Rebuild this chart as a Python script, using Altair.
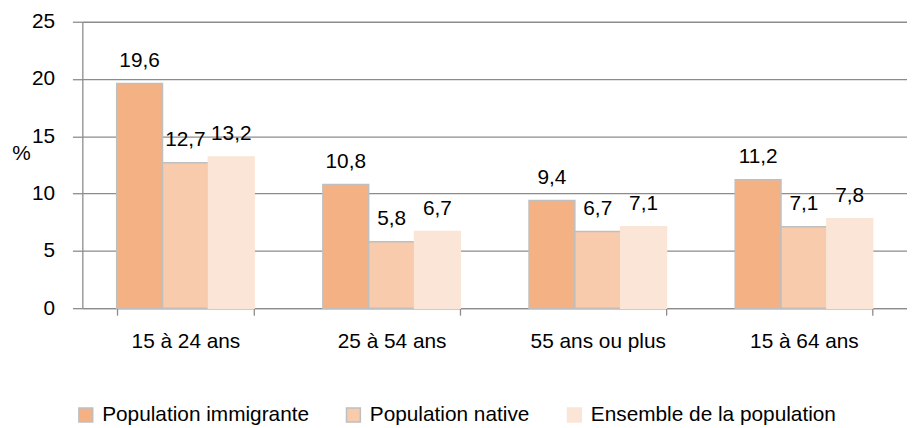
import altair as alt
import pandas as pd

categories = ["15 à 24 ans", "25 à 54 ans", "55 ans ou plus", "15 à 64 ans"]
series = ["Population immigrante", "Population native", "Ensemble de la population"]
immigrante = [19.6, 10.8, 9.4, 11.2]
native = [12.7, 5.8, 6.7, 7.1]
ensemble = [13.2, 6.7, 7.1, 7.8]
y_ticks = [0, 5, 10, 15, 20, 25]

rows = []
for vals, s in zip([immigrante, native, ensemble], series):
    for c, v in zip(categories, vals):
        rows.append({"cat": c, "serie": s, "val": v,
                     "lab": f"{v:.1f}".replace(".", ",")})
df = pd.DataFrame(rows)

FONT = "Liberation Sans, Arial, sans-serif"
colors = ["#F4B183", "#F8CBAD", "#FBE5D6"]
strokes = ["#BFBFBF", "#BFBFBF", "#FBE5D6"]
GRID = "#8C8C8C"

x = alt.X("cat:N", sort=categories, title=None,
          scale=alt.Scale(paddingInner=1/3, paddingOuter=1/6),
          axis=alt.Axis(labelAngle=0, labelFontSize=21, labelFont=FONT, labelColor="#000000",
                        tickBand="extent", tickSize=7, tickColor=GRID, tickWidth=1.3,
                        domainColor=GRID, domainWidth=1.3, labelPadding=16, grid=False))
xoff = alt.XOffset("serie:N", sort=series, scale=alt.Scale(paddingInner=0, paddingOuter=0))
y = alt.Y("val:Q", scale=alt.Scale(domain=[0, 25], nice=False, zero=True),
          axis=alt.Axis(values=y_ticks, title="%", titleAngle=0, titleX=-62, titleY=133,
                        titleAlign="center", titleBaseline="middle", titleFontSize=21,
                        titleFont=FONT, titleFontWeight="normal", titleColor="#000000",
                        labelFontSize=21, labelFont=FONT, labelColor="#000000", labelPadding=18,
                        tickSize=10, tickColor=GRID, tickWidth=1.3,
                        domainColor=GRID, domainWidth=1.3,
                        gridColor=GRID, gridWidth=1.3))

color = alt.Color("serie:N", sort=series, scale=alt.Scale(domain=series, range=colors),
                  legend=alt.Legend(title=None, orient="none", legendX=-7, legendY=386,
                                    direction="horizontal", symbolType="square",
                                    symbolSize=196, symbolStrokeWidth=1.5, padding=0,
                                    labelFontSize=21, labelFont=FONT, labelColor="#000000",
                                    labelOffset=6, columnPadding=34, labelLimit=400))
stroke = alt.Stroke("serie:N", sort=series, scale=alt.Scale(domain=series, range=strokes),
                    legend=None)

bars = alt.Chart(df).mark_bar(strokeWidth=1.5).encode(
    x=x, xOffset=xoff, y=y, color=color, stroke=stroke)

labels = alt.Chart(df).mark_text(baseline="alphabetic", dy=-17, fontSize=21, font=FONT,
                                 color="#000000").encode(
    x=alt.X("cat:N", sort=categories), xOffset=alt.XOffset("serie:N", sort=series),
    y=alt.Y("val:Q", scale=alt.Scale(domain=[0, 25], nice=False)), text="lab:N")

chart = alt.layer(bars, labels).properties(
    width=832, height=289,
    autosize=alt.AutoSizeParams(type="none"),
    padding={"left": 75, "top": 12, "right": 0, "bottom": 118},
    background="#FFFFFF",
).configure_view(stroke=None)

chart.save("out.html", embed_options={"renderer": "svg", "actions": False})
